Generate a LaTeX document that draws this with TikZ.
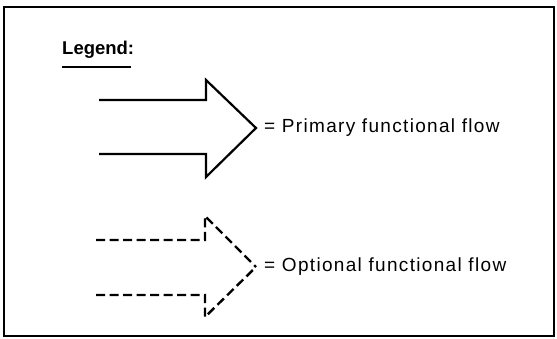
\documentclass[tikz,border=0pt]{standalone}
\usepackage{fontspec}
\setmainfont{Liberation Sans}
\newfontfamily\lblfont[LetterSpace=7]{Liberation Sans}
\begin{document}
\begin{tikzpicture}[x=1pt,y=-1pt,
  frame/.style={line width=2pt},
  flowline/.style={line width=2.2pt, line join=miter},
  optline/.style={line width=2.4pt, dash pattern=on 9pt off 4.5pt, line join=miter},
  lbl/.style={font=\lblfont\fontsize{19}{22}\selectfont, inner sep=0pt, anchor=west}]
\useasboundingbox (0,0) rectangle (557,339);
% outer frame
\draw[frame] (4,7) rectangle (554,336);
% heading
\node[font=\bfseries\fontsize{18.5}{22}\selectfont, inner sep=0pt, anchor=base west] (legend) at (62,55) {Legend:};
\draw[line width=2pt] (62,67) -- (131,67);
% primary flow arrow
\coordinate (ptip) at (256,128);
\draw[flowline] (99,100) -- (206,100) -- (206,80) -- (ptip) -- (206,177) -- (206,154) -- (99,154);
\node[lbl] (primary) at ([xshift=8pt]ptip) {= Primary functional flow};
% optional flow arrow, each half dashed from its left end
\coordinate (otip) at (256,267);
\draw[optline] (96,240) -- (205,240) -- (205,216) -- (otip);
\draw[optline] (96,295) -- (205,295) -- (205,317) -- (otip);
\node[lbl] (optional) at ([xshift=8pt]otip) {= Optional functional flow};
\end{tikzpicture}
\end{document}
